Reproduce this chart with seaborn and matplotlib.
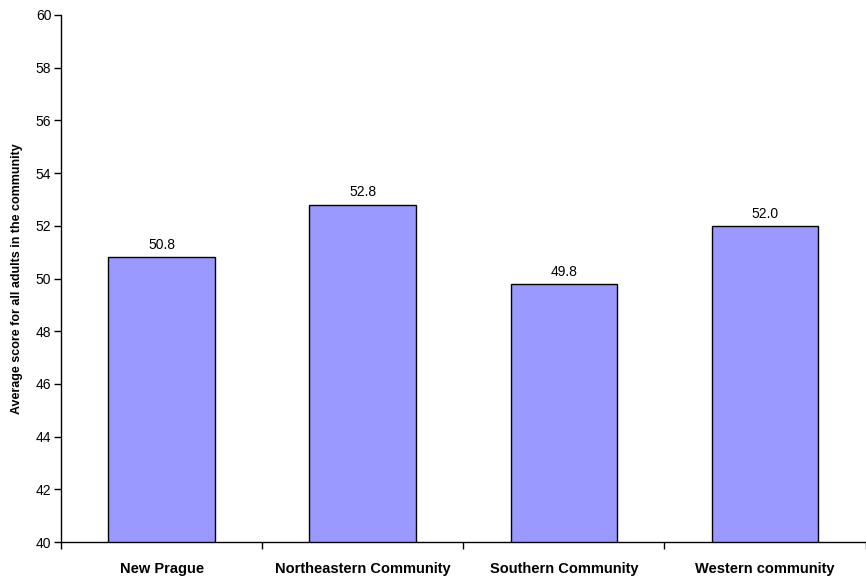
import matplotlib
matplotlib.use("Agg")
import matplotlib.pyplot as plt
import seaborn as sns
import pandas as pd
from matplotlib import font_manager

communities = ["New Prague", "Northeastern Community", "Southern Community", "Western community"]
scores = [50.8, 52.8, 49.8, 52.0]
y_ticks = [40, 42, 44, 46, 48, 50, 52, 54, 56, 58, 60]

sns.set_theme(style="white")
names = {f.name for f in font_manager.fontManager.ttflist}
family = ["Liberation Sans", "DejaVu Sans"]
family = [f for f in family if f in names] or ["DejaVu Sans"]
plt.rcParams["font.family"] = family
plt.rcParams["text.color"] = "black"
plt.rcParams["xtick.color"] = "black"
plt.rcParams["ytick.color"] = "black"
plt.rcParams["axes.labelcolor"] = "black"

df = pd.DataFrame({"community": communities, "score": scores})

fig = plt.figure(figsize=(8.66, 5.79), dpi=100)
ax = fig.add_axes([61 / 866, 1 - 542 / 579, 1 - 61 / 866 - 0.0005, (542 - 15) / 579])

sns.barplot(data=df, x="community", y="score", color="#9999FF", width=0.53,
            edgecolor="black", linewidth=1.0, saturation=1, ax=ax)

ax.set_ylim(40, 60)
ax.set_xlim(-0.5, 3.5)
ax.set_yticks(y_ticks)
ax.set_yticklabels([str(v) for v in y_ticks], fontsize=10)

# category labels centred under bars, tick marks between categories
ax.set_xticks([-0.5, 0.5, 1.5, 2.5, 3.5])
ax.set_xticklabels([])
ax.set_xticks(range(len(communities)), minor=True)
ax.set_xticklabels(communities, minor=True, fontsize=10.5, fontweight="bold")
ax.tick_params(axis="x", which="major", direction="out", length=5, width=1, color="black", bottom=True)
ax.tick_params(axis="x", which="minor", length=0, pad=14.5)
ax.tick_params(axis="y", direction="out", length=5, width=1, color="black", left=True, pad=2)

for s in ["top", "right"]:
    ax.spines[s].set_visible(False)
for s in ["left", "bottom"]:
    ax.spines[s].set_color("black")
    ax.spines[s].set_linewidth(1.0)

ax.set_xlabel("")
ax.set_ylabel("Average score for all adults in the community", fontsize=9, fontweight="bold", labelpad=9)

for i, v in enumerate(scores):
    ax.text(i, v + 0.2, f"{v:.1f}", ha="center", va="bottom", fontsize=10)

fig.savefig("out.png", dpi=100)
